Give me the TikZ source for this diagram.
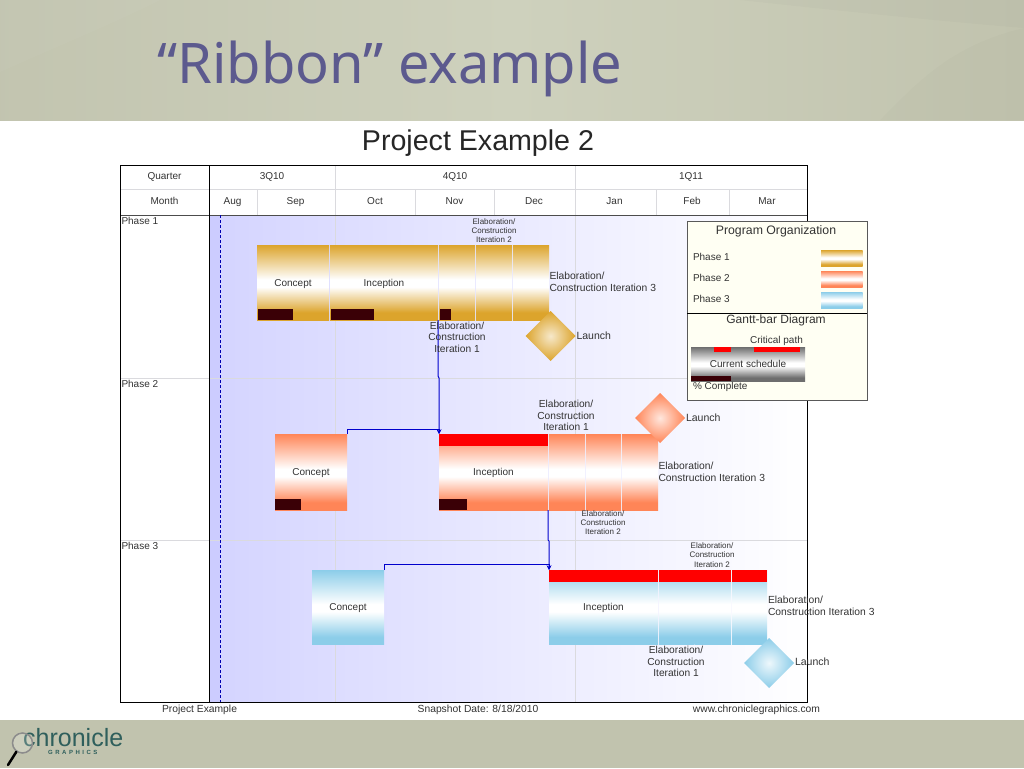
\documentclass[tikz,border=0pt]{standalone}
\usepackage{fontspec}
\setmainfont{Liberation Sans}
\newfontfamily\titlefont{Noto Sans}
\usetikzlibrary{shapes.geometric}

\definecolor{Gold}{HTML}{DCA42C}
\definecolor{Coral}{HTML}{FF8557}
\definecolor{Sky}{HTML}{8CCDE9}
\definecolor{Steel}{HTML}{6E6E6E}
\definecolor{Maroon}{HTML}{3A0006}
\definecolor{Ink}{HTML}{333333}
\definecolor{Rule}{HTML}{DADADE}
\definecolor{Slide}{HTML}{C1C3AE}
\definecolor{SlideLight}{HTML}{CED1BD}
\definecolor{Teal}{HTML}{2F5F5C}
\definecolor{Plum}{HTML}{5C5A8E}
\definecolor{Paper}{HTML}{FFFFF3}

\pgfdeclareverticalshading{goldshade}{100bp}{color(0bp)=(Gold); color(30bp)=(Gold); color(47bp)=(white); color(52bp)=(white); color(75bp)=(Gold); color(100bp)=(Gold)}
\pgfdeclareverticalshading{coralshade}{100bp}{color(0bp)=(Coral); color(30bp)=(Coral); color(47bp)=(white); color(52bp)=(white); color(75bp)=(Coral); color(100bp)=(Coral)}
\pgfdeclareverticalshading{skyshade}{100bp}{color(0bp)=(Sky); color(30bp)=(Sky); color(47bp)=(white); color(52bp)=(white); color(75bp)=(Sky); color(100bp)=(Sky)}
\pgfdeclareverticalshading{steelshade}{100bp}{color(0bp)=(Steel); color(30bp)=(Steel); color(47bp)=(white); color(52bp)=(white); color(75bp)=(Steel); color(100bp)=(Steel)}

\tikzstyle{Block} = [anchor=north west, rectangle, inner sep=0pt, outer sep=0pt, text=Ink, text height=8.5pt, text depth=1.5pt, font=\fontsize{10}{11}\selectfont]
\tikzstyle{GoldBar} = [Block, shade, shading=goldshade]
\tikzstyle{CoralBar} = [Block, shade, shading=coralshade]
\tikzstyle{SkyBar} = [Block, shade, shading=skyshade]
\tikzstyle{Done} = [Block, fill=Maroon, text height=0pt, text depth=0pt]
\tikzstyle{Critical} = [Block, fill=red, text height=0pt, text depth=0pt]
\tikzstyle{Gem} = [diamond, aspect=1, inner sep=0pt, outer sep=0pt, minimum size=50pt]
\tikzstyle{Txt} = [inner sep=0pt, outer sep=0pt, text=Ink, align=center, font=\fontsize{10}{11}\selectfont]
\tikzstyle{Cell} = [Txt, text height=8.5pt, text depth=1.5pt]
\tikzstyle{Big} = [Txt, font=\fontsize{10.2}{11.4}\selectfont]
\tikzstyle{Tiny} = [Txt, font=\fontsize{8}{9.2}\selectfont]
\tikzstyle{Lefty} = [Cell, anchor=west, align=left]
\tikzstyle{BigLeft} = [Txt, anchor=west, align=left, font=\fontsize{10.3}{11.4}\selectfont]
\tikzstyle{Launch} = [Lefty, font=\fontsize{10.5}{11}\selectfont]
\tikzstyle{Foot} = [Cell, font=\fontsize{10.3}{11}\selectfont]
\tikzstyle{Grid} = [draw=Rule, line width=1pt]
\tikzstyle{Link} = [draw=blue!80!black, line width=1pt, -stealth]

\begin{document}
\begin{tikzpicture}[x=1pt, y=-1pt]
	\useasboundingbox (0,0) rectangle (1024,768);

	% Slide background
	\node(sheet) at (0,0) [Block, fill=white, minimum width=1024pt, minimum height=768pt]{};
	\node(header) at (0,0) [Block, left color=Slide!90!SlideLight, right color=Slide, middle color=SlideLight, minimum width=1024pt, minimum height=120pt]{};
	\fill [white, opacity=0.03] (0,72) .. controls (60,45) and (110,25) .. (160,0) -- (0,0) -- cycle;
	\fill [black, opacity=0.015] (740,0) .. controls (850,12) and (950,22) .. (1024,28) -- (1024,0) -- cycle;
	\fill [black, opacity=0.01] (880,120) .. controls (915,85) and (950,45) .. (1024,28) -- (1024,120) -- cycle;
	\node(footer) at (0,720) [Block, fill=Slide, minimum width=1024pt, minimum height=48pt]{};
	\node(title) at (157,83) [anchor=base west, inner sep=0pt, text=Plum, font=\titlefont\fontsize{56}{56}\selectfont]{“Ribbon” example};
	\node(heading) at (478,140) [Cell, text height=20pt, text depth=0pt, font=\fontsize{28.6}{29}\selectfont, text=black!85]{Project Example 2};

	% Chart frame
	\node(chart) at (209,215) [Block, left color=blue!17, right color=white, minimum width=598pt, minimum height=487pt]{};
	\node(margin) at (209,215) [Block, fill=blue!20, minimum width=11pt, minimum height=487pt]{};
	\draw [Grid] (120,189.5) -- (807,189.5);
	\draw [Grid] (120,378) -- (807,378);
	\draw [Grid] (120,540) -- (807,540);
	\draw [Grid] (335,165) -- (335,702);
	\draw [Grid] (575,165) -- (575,702);
	\draw [Grid] (257,189) -- (257,215);
	\draw [Grid] (415,189) -- (415,215);
	\draw [Grid] (494,189) -- (494,215);
	\draw [Grid] (656,189) -- (656,215);
	\draw [Grid] (729,189) -- (729,215);
	\draw [black!70, line width=1pt] (120,215) -- (807,215);
	\draw [black, line width=1pt] (209.5,165) -- (209.5,702);
	\draw [blue!70!black, densely dashed, line width=0.8pt] (220.5,215) -- (220.5,702);
	\node(frame) at (120,165) [Block, draw=black, line width=1pt, minimum width=687pt, minimum height=537pt]{};

	% Quarter and month labels
	\node(quarter) at (164.5,176) [Cell]{Quarter};
	\node(qthree) at (272,176) [Cell]{3Q10};
	\node(qfour) at (455,176) [Cell]{4Q10};
	\node(qone) at (691,176) [Cell]{1Q11};
	\node(month) at (164.5,200.5) [Cell]{Month};
	\node(aug) at (232.5,200.5) [Cell]{Aug};
	\node(sep) at (295.5,200.5) [Cell]{Sep};
	\node(oct) at (375,200.5) [Cell]{Oct};
	\node(nov) at (454.5,200.5) [Cell]{Nov};
	\node(dec) at (534,200.5) [Cell]{Dec};
	\node(jan) at (614.5,200.5) [Cell]{Jan};
	\node(feb) at (692,200.5) [Cell]{Feb};
	\node(mar) at (767,200.5) [Cell]{Mar};
	\node(phaseone) at (121.5,220.5) [Lefty]{Phase 1};
	\node(phasetwo) at (121.5,383.5) [Lefty]{Phase 2};
	\node(phasethree) at (121.5,545.5) [Lefty]{Phase 3};

	% Phase 1 bars
	\node(oneconcept) at (257,245) [GoldBar, minimum width=72pt, minimum height=75pt]{Concept};
	\node(oneinception) at (330,245) [GoldBar, minimum width=108pt, minimum height=75pt]{Inception};
	\node(oneelabA) at (439,245) [GoldBar, minimum width=36pt, minimum height=75pt]{};
	\node(oneelabB) at (476,245) [GoldBar, minimum width=36pt, minimum height=75pt]{};
	\node(oneelabC) at (513,245) [GoldBar, minimum width=36pt, minimum height=75pt]{};
	\node(onedoneA) at (258,308.5) [Done, minimum width=35pt, minimum height=11.5pt]{};
	\node(onedoneB) at (331,308.5) [Done, minimum width=43pt, minimum height=11.5pt]{};
	\node(onedoneC) at (440,308.5) [Done, minimum width=11pt, minimum height=11.5pt]{};
	\node(onelaunch) at (550.5,336) [Gem, inner color=Gold!25!white, outer color=Gold]{};

	% Phase 2 bars
	\node(twoconcept) at (275,434) [CoralBar, minimum width=72pt, minimum height=76pt]{Concept};
	\node(twoinception) at (439,434) [CoralBar, minimum width=109pt, minimum height=76pt]{Inception};
	\node(twoelabA) at (549,434) [CoralBar, minimum width=36pt, minimum height=76pt]{};
	\node(twoelabB) at (586,434) [CoralBar, minimum width=35pt, minimum height=76pt]{};
	\node(twoelabC) at (622,434) [CoralBar, minimum width=36pt, minimum height=76pt]{};
	\node(twocritical) at (439,434) [Critical, minimum width=109pt, minimum height=11.5pt]{};
	\node(twodoneA) at (275,498.5) [Done, minimum width=26pt, minimum height=11.5pt]{};
	\node(twodoneB) at (439,498.5) [Done, minimum width=28pt, minimum height=11.5pt]{};
	\node(twolaunch) at (660,418) [Gem, inner color=Coral!20!white, outer color=Coral]{};

	% Phase 3 bars
	\node(threeconcept) at (312,570) [SkyBar, minimum width=72pt, minimum height=74.5pt]{Concept};
	\node(threeinception) at (549,570) [SkyBar, minimum width=109pt, minimum height=74.5pt]{Inception};
	\node(threeelabA) at (659,570) [SkyBar, minimum width=35.5pt, minimum height=74.5pt]{};
	\node(threeelabB) at (695,570) [SkyBar, minimum width=36pt, minimum height=74.5pt]{};
	\node(threeelabC) at (732,570) [SkyBar, minimum width=35pt, minimum height=74.5pt]{};
	\node(threecritA) at (549,570) [Critical, minimum width=109pt, minimum height=11.5pt]{};
	\node(threecritB) at (659,570) [Critical, minimum width=35.5pt, minimum height=11.5pt]{};
	\node(threecritC) at (695,570) [Critical, minimum width=36pt, minimum height=11.5pt]{};
	\node(threecritD) at (732,570) [Critical, minimum width=35pt, minimum height=11.5pt]{};
	\node(threelaunch) at (769,663) [Gem, inner color=Sky!15!white, outer color=Sky]{};

	% Dependency lines
	\draw [Link] ([xshift=-1pt]oneelabA.south west) -- ++(0,56) -- ++(1,2) -- (twoinception.north west);
	\draw [Link] (twoconcept.north east) -- ++(0,-5) -- ++(92,0) -- (twoinception.north west);
	\draw [Link] (twoinception.south east) -- ++(0,30) -- ++(1,1) -- (threeinception.north west);
	\draw [Link] (threeconcept.north east) -- ++(0,-6) -- ++(165,0) -- (threeinception.north west);

	% Phase 1 labels
	\node(oneA) at (457,337) [Big]{Elaboration/\\Construction\\Iteration 1};
	\node(oneB) at (494,230.5) [Tiny]{Elaboration/\\Construction\\Iteration 2};
	\node(oneC) at (549.5,282) [BigLeft]{Elaboration/\\Construction Iteration 3};
	\node(oneD) at (576.5,336) [Launch]{Launch};

	% Phase 2 labels
	\node(twoA) at (566,415.5) [Big]{Elaboration/\\Construction\\Iteration 1};
	\node(twoB) at (603,522.5) [Tiny]{Elaboration/\\Construction\\Iteration 2};
	\node(twoC) at (658.5,472) [BigLeft]{Elaboration/\\Construction Iteration 3};
	\node(twoD) at (686,418) [Launch]{Launch};

	% Phase 3 labels
	\node(threeA) at (676,661.5) [Big]{Elaboration/\\Construction\\Iteration 1};
	\node(threeB) at (712,555) [Tiny]{Elaboration/\\Construction\\Iteration 2};
	\node(threeC) at (768,606) [BigLeft]{Elaboration/\\Construction Iteration 3};
	\node(threeD) at (795,662) [Launch]{Launch};

	% Legend
	\node(legend) at (687,221) [Block, draw=black!65, fill=Paper, line width=1pt, minimum width=180pt, minimum height=179pt]{};
	\draw [black, line width=1pt] (legend.west |- 0,313) -- (legend.east |- 0,313);
	\node(organization) at (776,231) [Cell, font=\fontsize{12.3}{13}\selectfont]{Program Organization};
	\node(keyone) at (693,257) [Lefty]{Phase 1};
	\node(keytwo) at (693,278) [Lefty]{Phase 2};
	\node(keythree) at (693,299) [Lefty]{Phase 3};
	\node(swatchone) at (821,250) [GoldBar, minimum width=41.5pt, minimum height=16pt]{};
	\node(swatchtwo) at (821,271) [CoralBar, minimum width=41.5pt, minimum height=16pt]{};
	\node(swatchthree) at (821,292) [SkyBar, minimum width=41.5pt, minimum height=16pt]{};
	\node(ganttbar) at (776,319.5) [Cell, font=\fontsize{12}{13}\selectfont]{Gantt-bar Diagram};
	\node(critpath) at (776.5,340) [Cell]{Critical path};
	\node(schedule) at (691,347) [Block, shade, shading=steelshade, minimum width=114pt, minimum height=34pt]{Current schedule};
	\node(critA) at (714,347) [Critical, minimum width=17pt, minimum height=5pt]{};
	\node(critB) at (754,347) [Critical, minimum width=46pt, minimum height=5pt]{};
	\node(doneA) at (691,376) [Done, minimum width=40pt, minimum height=5pt]{};
	\node(percent) at (693,385.5) [Lefty]{\% Complete};

	% Footer text
	\node(project) at (199.5,709) [Foot]{Project Example};
	\node(snapshot) at (478,709) [Foot]{Snapshot Date: 8/18/2010};
	\node(website) at (756.5,709) [Foot]{www.chroniclegraphics.com};

	% Logo
	\node(chronicle) at (23,746) [anchor=base west, inner sep=0pt, text=Teal, font=\fontsize{25}{25}\selectfont]{chronicle};
	\node(graphics) at (48,754.5) [anchor=base west, inner sep=0pt, text=Teal, font=\bfseries\fontsize{6}{6}\selectfont]{G\hspace{2.5pt}R\hspace{2.5pt}A\hspace{2.5pt}P\hspace{2.5pt}H\hspace{2.5pt}I\hspace{2.5pt}C\hspace{2.5pt}S};
	\node(lens) at (22.5,743) [circle, draw=black!45, fill=white, fill opacity=0.2, draw opacity=1, line width=1.5pt, minimum size=20pt, inner sep=0pt]{};
	\coordinate (handle) at (8,765);
	\draw [black, line width=2.5pt, line cap=round] (lens.235) -- (handle);
\end{tikzpicture}
\end{document}
